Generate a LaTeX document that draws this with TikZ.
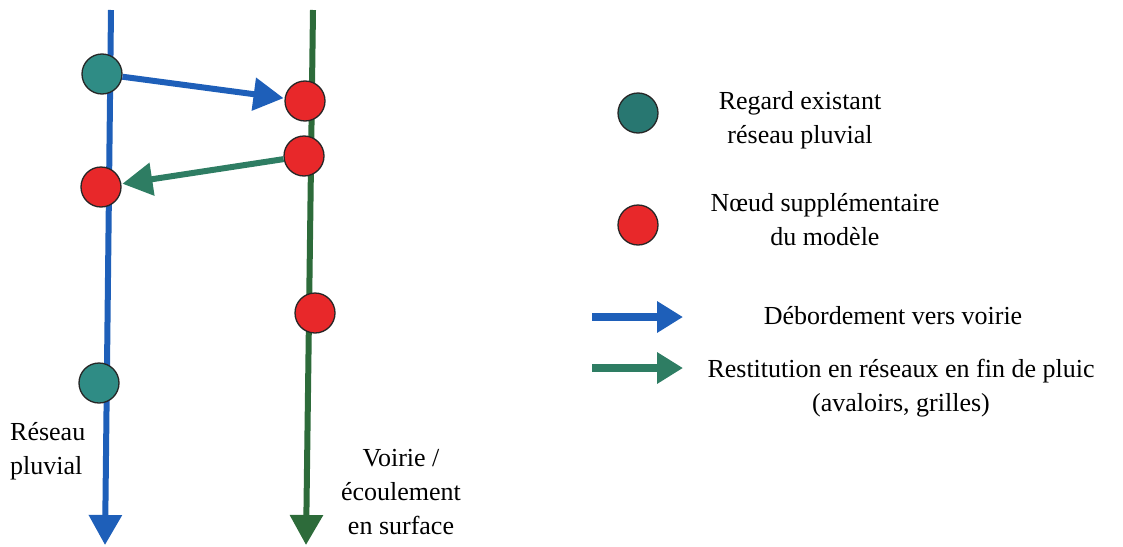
\documentclass[tikz,border=0pt]{standalone}
\usepackage{fontspec}
\setmainfont{Liberation Serif}
\usetikzlibrary{arrows.meta}
\definecolor{pblue}{HTML}{1E5FB9}
\definecolor{pteal}{HTML}{2F8C85}
\definecolor{pred}{HTML}{E8282A}
\definecolor{pdgreen}{HTML}{2D6B3A}
\definecolor{pgarrow}{HTML}{2E7D63}
\tikzset{
  mh/.style={circle,draw=black!85,line width=1.3pt,minimum size=40pt,inner sep=0pt,fill=pteal},
  xnode/.style={circle,draw=black!85,line width=1.3pt,minimum size=40pt,inner sep=0pt,fill=pred},
  net/.style={line width=6pt,-{Triangle[length=30pt,width=32pt]}},
  flow/.style={line width=6pt,-{Triangle[length=30pt,width=32pt]},shorten >=1pt},
  legarrow/.style={line width=8pt,-{Triangle[length=26pt,width=30pt]}},
  lbl/.style={font=\fontsize{26}{34}\selectfont,inner sep=0pt,align=center}
}
\begin{document}
\begin{tikzpicture}[x=1pt,y=-1pt]
\useasboundingbox (0,0) rectangle (1123,546);
% axes
\coordinate (btop) at (111,10);
\coordinate (bbot) at (105,545);
\coordinate (gtop) at (313,10);
\coordinate (gbot) at (306,545);
\draw[net,pblue] (btop) -- (bbot);
\draw[net,pdgreen] (gtop) -- (gbot);
% nodes
\node[mh] (t1) at (102,74) {};
\node[xnode] (b2) at (101,187) {};
\node[mh] (t3) at (99,383) {};
\node[xnode] (r1) at (305,101) {};
\node[xnode] (r2) at (304,156) {};
\node[xnode] (r3) at (315,313) {};
% exchanges
\draw[flow,pblue] (t1) -- (r1);
\draw[flow,pgarrow] (r2) -- (b2);
% axis labels
\node[lbl,align=left,anchor=west] (lb) at (10,451) {Réseau\\pluvial};
\node[lbl] (lg) at (401,492) {Voirie /\\écoulement\\en surface};
% legend
\node[mh,fill=pteal!85!black] (k1) at (638,113) {};
\node[xnode] (k2) at (638,225) {};
\node[lbl] (k1t) at (800,120) {Regard existant\\réseau pluvial};
\node[lbl] (k2t) at (825,220) {Nœud supplémentaire\\du modèle};
\coordinate (a1s) at (592,317);
\coordinate (a1e) at (683,317);
\coordinate (a2s) at (592,368);
\coordinate (a2e) at (683,368);
\draw[legarrow,pblue] (a1s) -- (a1e);
\draw[legarrow,pgarrow] (a2s) -- (a2e);
\node[lbl] (k3t) at (893,316) {Débordement vers voirie};
\node[lbl] (k4t) at (901,388) {Restitution en réseaux en fin de pluic\\(avaloirs, grilles)};
\end{tikzpicture}
\end{document}
